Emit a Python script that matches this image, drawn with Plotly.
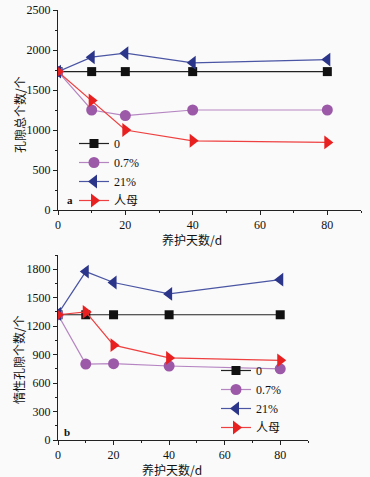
import plotly.graph_objects as go

days = [0, 10, 20, 40, 80]
series_names = ["0", "0.7%", "21%", "人母"]

total_0 = [1730, 1730, 1730, 1730, 1730]
total_07 = [1730, 1250, 1180, 1250, 1250]
total_21 = [1730, 1910, 1960, 1840, 1880]
total_rm = [1730, 1370, 1000, 865, 845]

inert_0 = [1320, 1320, 1320, 1320, 1320]
inert_07 = [1320, 800, 805, 780, 750]
inert_21 = [1330, 1775, 1660, 1540, 1690]
inert_rm = [1320, 1350, 1000, 865, 840]

styles = [
    dict(color="#111111", line="#222222", symbol="square", size=9),
    dict(color="#9b59a8", line="#b585c2", symbol="circle", size=11),
    dict(color="#2b3589", line="#4a55a3", symbol="triangle-left", size=12),
    dict(color="#e82020", line="#ee4040", symbol="triangle-right", size=12),
]

fig = go.Figure()

for name, ys, st in zip(series_names, [total_0, total_07, total_21, total_rm], styles):
    fig.add_trace(go.Scatter(
        x=days, y=ys, name=name, mode="lines+markers",
        line=dict(color=st["line"], width=1.2),
        marker=dict(symbol=st["symbol"], size=st["size"], color=st["color"]),
        xaxis="x", yaxis="y", legend="legend"))

for name, ys, st in zip(series_names, [inert_0, inert_07, inert_21, inert_rm], styles):
    fig.add_trace(go.Scatter(
        x=days, y=ys, name=name, mode="lines+markers",
        line=dict(color=st["line"], width=1.2),
        marker=dict(symbol=st["symbol"], size=st["size"], color=st["color"]),
        xaxis="x2", yaxis="y2", legend="legend2"))

serif = "Liberation Serif, Times New Roman, DejaVu Serif, serif"
cjk = "Noto Sans CJK SC"
tickfont = dict(family=serif, size=12, color="#111111")
axis_common = dict(
    showline=True, linecolor="#222222", linewidth=1, ticks="outside",
    ticklen=4, tickcolor="#222222", showgrid=False, zeroline=False,
    tickfont=tickfont, automargin=False,
)

W, H = 370, 477
ml, mr, mt, mb = 58, 9, 10, 37
pw = W - ml - mr
ph = H - mt - mb

def minor(vals):
    return dict(tickvals=vals, ticks="outside", ticklen=2, tickcolor="#222222")

legend_font = dict(family="Liberation Serif, Noto Sans CJK SC, serif", size=12, color="#111111")

fig.update_layout(
    width=W, height=H,
    margin=dict(l=ml, r=mr, t=mt, b=mb, autoexpand=False),
    paper_bgcolor="#fafafa", plot_bgcolor="#fafafa",
    font=dict(family=serif, size=12, color="#111111"),
    xaxis=dict(domain=[0, 1], range=[0, 90], tickvals=[0, 20, 40, 60, 80],
               minor=minor([10, 30, 50, 70, 90]), anchor="y", **axis_common),
    yaxis=dict(domain=[1 - 200 / ph, 1], range=[0, 2500], tickvals=[0, 500, 1000, 1500, 2000, 2500],
               minor=minor([250, 750, 1250, 1750, 2250]), anchor="x", **axis_common),
    xaxis2=dict(domain=[0, 250 / pw], range=[0, 90], tickvals=[0, 20, 40, 60, 80],
                minor=minor([10, 30, 50, 70, 90]), anchor="y2", **axis_common),
    yaxis2=dict(domain=[0, 185 / ph], range=[0, 1950], tickvals=[0, 300, 600, 900, 1200, 1500, 1800],
                minor=minor([150, 450, 750, 1050, 1350, 1650, 1950]), anchor="x2", **axis_common),
    legend=dict(x=(74 - ml) / pw, y=1 - (129 - mt) / ph, xanchor="left", yanchor="top",
                bgcolor="rgba(0,0,0,0)", font=legend_font, itemwidth=30, tracegroupgap=0),
    legend2=dict(x=(216 - ml) / pw, y=1 - (356 - mt) / ph, xanchor="left", yanchor="top",
                 bgcolor="rgba(0,0,0,0)", font=legend_font, itemwidth=30, tracegroupgap=0),
    showlegend=True,
)

ann = [
    dict(text="养护天数/d", x=192, y=240),
    dict(text="养护天数/d", x=172, y=469),
]
for a in ann:
    fig.add_annotation(text=a["text"], xref="paper", yref="paper",
                       x=(a["x"] - ml) / pw, y=1 - (a["y"] - mt) / ph,
                       showarrow=False, font=dict(family=cjk, size=12, color="#111111"),
                       xanchor="center", yanchor="middle")
fig.add_annotation(text="孔隙总个数/个", xref="paper", yref="paper",
                   x=(19 - ml) / pw, y=1 - (115 - mt) / ph, textangle=-90,
                   showarrow=False, font=dict(family=cjk, size=12, color="#111111"),
                   xanchor="center", yanchor="middle")
fig.add_annotation(text="惰性孔隙个数/个", xref="paper", yref="paper",
                   x=(18 - ml) / pw, y=1 - (360 - mt) / ph, textangle=-90,
                   showarrow=False, font=dict(family=cjk, size=12, color="#111111"),
                   xanchor="center", yanchor="middle")
fig.add_annotation(text="<b>a</b>", xref="paper", yref="paper",
                   x=(70 - ml) / pw, y=1 - (200 - mt) / ph, showarrow=False,
                   font=dict(family=serif, size=11, color="#111111"),
                   xanchor="center", yanchor="middle")
fig.add_annotation(text="<b>b</b>", xref="paper", yref="paper",
                   x=(67 - ml) / pw, y=1 - (432 - mt) / ph, showarrow=False,
                   font=dict(family=serif, size=11, color="#111111"),
                   xanchor="center", yanchor="middle")

fig.write_html(
    "out.html",
    config={"displayModeBar": False},
    post_script="document.body.style.margin='0px';document.body.style.background='#fafafa';",
)
